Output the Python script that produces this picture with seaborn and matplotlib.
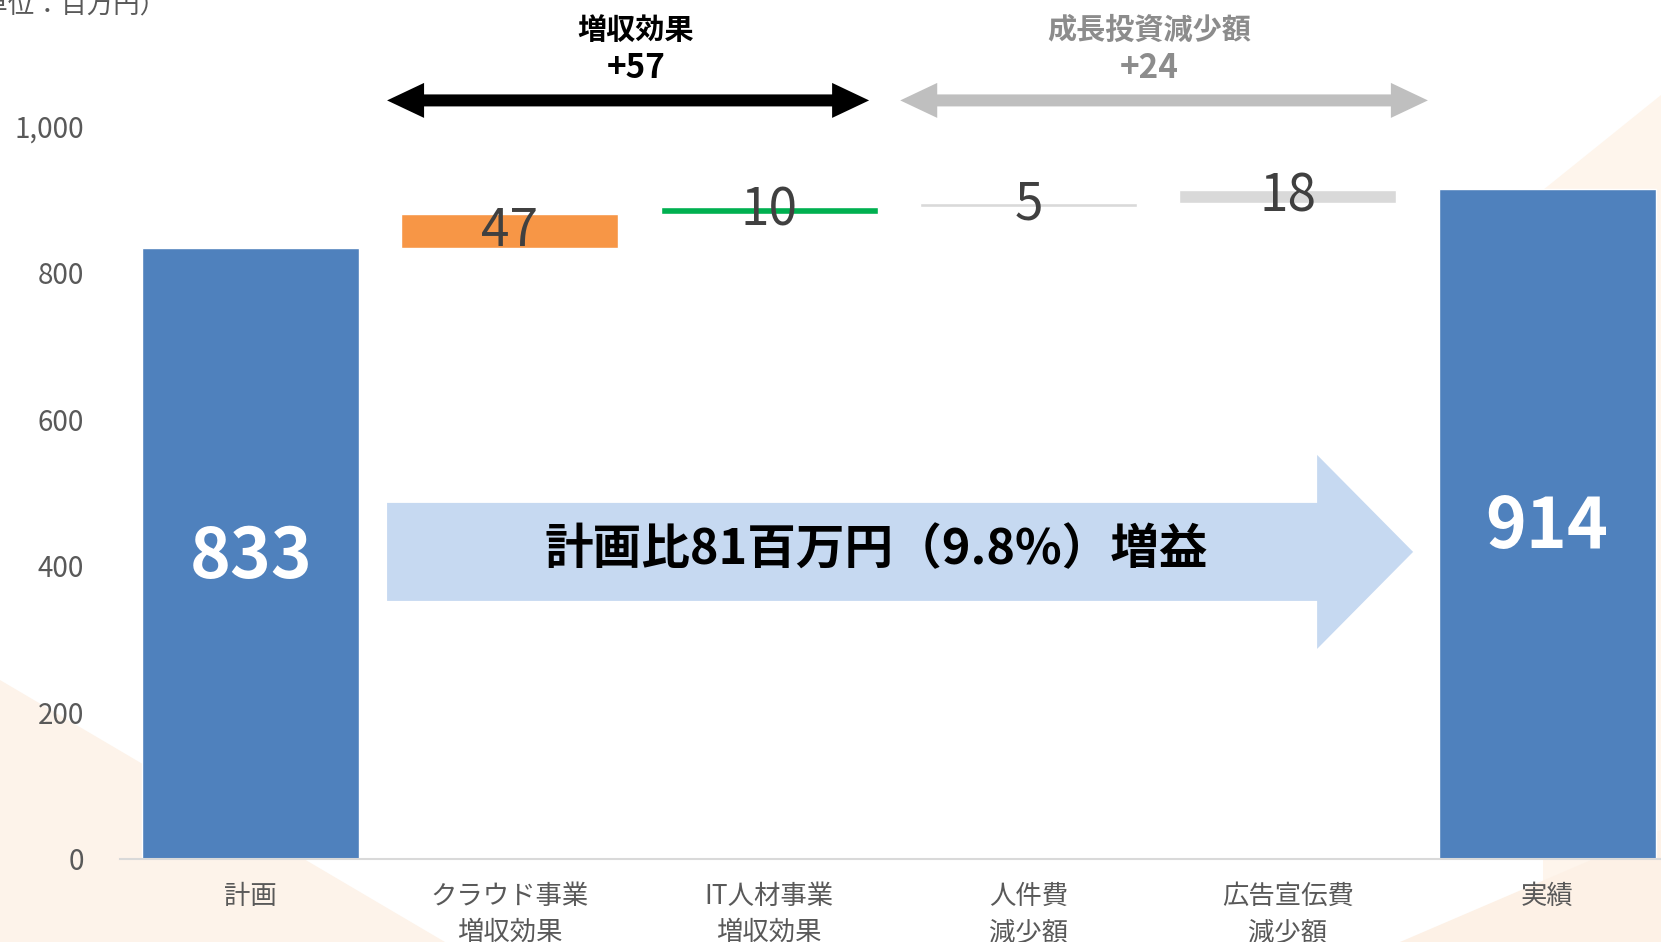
import numpy as np
import pandas as pd
import seaborn as sns
import matplotlib.pyplot as plt
import matplotlib.patches as mpatches
import matplotlib.transforms as mtransforms
from matplotlib.ticker import FuncFormatter

# data
categories = ["計画", "クラウド事業\n増収効果", "IT人材事業\n増収効果", "人件費\n減少額", "広告宣伝費\n減少額", "実績"]
plan = 833
changes = [47, 10, 5, 18]
actual = 914
bar_colors = ["#4F81BD", "#F79646", "#00B050", "#D9D9D9", "#D9D9D9", "#4F81BD"]
yticks = [0, 200, 400, 600, 800, 1000]

heights = [plan] + changes + [actual]
bases = [0] + list(plan + np.cumsum([0] + changes[:-1])) + [0]
df = pd.DataFrame({"category": categories, "value": heights, "base": bases})

sns.set_theme(style="white")
plt.rcParams['font.family'] = ['Noto Sans CJK JP', 'DejaVu Sans']

fig = plt.figure(figsize=(16.61, 9.42), dpi=100)
fig.patch.set_facecolor("white")

# faint background shapes (figure pixels, top-origin)
def fig_poly(pts, color):
    pts = [(x / 1661, 1 - y / 942) for x, y in pts]
    fig.patches.append(mpatches.Polygon(pts, closed=True, transform=fig.transFigure,
                                        facecolor=color, edgecolor="none", zorder=-5))

fig_poly([(0, 680), (445, 942), (0, 942)], "#FDF3EA")
fig_poly([(1543, 190), (1661, 95), (1661, 942), (1543, 942)], "#FEF5EC")
fig_poly([(1400, 942), (1661, 830), (1661, 942)], "#FDF1E6")

ax = fig.add_axes([120 / 1661, 83 / 942, 1 - 120 / 1661, 859 / 942])
ax.set_facecolor("none")

sns.barplot(data=df, x="category", y="value", hue="category", palette=bar_colors,
            saturation=1, width=0.837, legend=False, ax=ax, zorder=3)

# float the change bars on their bases
for patch, b in zip(ax.patches, bases):
    patch.set_y(b)

ax.set_xlim(-0.504, 5.439)
ax.set_ylim(0, 1172)
ax.set_yticks(yticks)
ax.yaxis.set_major_formatter(FuncFormatter(lambda v, p: f"{int(v):,}"))
ax.tick_params(axis="y", labelsize=20, labelcolor="#595959", pad=26, length=0)
ax.tick_params(axis="x", labelsize=19, labelcolor="#595959", pad=17, length=0)
for lab in ax.get_xticklabels():
    lab.set_linespacing(1.45)
ax.set_xlabel("")
ax.set_ylabel("")
for s in ["top", "right", "left"]:
    ax.spines[s].set_visible(False)
ax.spines["bottom"].set_color("#D9D9D9")
ax.spines["bottom"].set_linewidth(1.5)
ax.spines["bottom"].set_zorder(5)

# value labels
for i, (h, b) in enumerate(zip(heights, bases)):
    if i in (0, len(heights) - 1):
        ax.text(i, b + h / 2 - 5, f"{h}", ha="center", va="center", color="white",
                fontsize=50, fontweight="bold", zorder=6)
    else:
        ax.text(i, b + h / 2, f"{h}", ha="center", va="center", color="#404040",
                fontsize=37, zorder=6)

fig.canvas.draw()

def arrow(x0, x1, y, shaft, head_w, head_len, color, double=False):
    (px0, py), (px1, _) = ax.transData.transform([(x0, y), (x1, y)])
    s, hw = shaft / 2, head_w / 2
    right = [(px1 - head_len, py + s), (px1 - head_len, py + hw), (px1, py),
             (px1 - head_len, py - hw), (px1 - head_len, py - s)]
    if double:
        left = [(px0 + head_len, py - s), (px0 + head_len, py - hw), (px0, py),
                (px0 + head_len, py + hw), (px0 + head_len, py + s)]
    else:
        left = [(px0, py - s), (px0, py + s)]
    pts = right + left
    ax.add_patch(mpatches.Polygon(pts, closed=True, transform=mtransforms.IdentityTransform(),
                                  facecolor=color, edgecolor="none", zorder=4, clip_on=False))

# big summary arrow
arrow(0.526, 4.483, 419, 98, 194, 96, "#C6D9F1")
ax.text(2.412, 422, "計画比81百万円（9.8%）増益", ha="center", va="center",
        fontsize=35, fontweight="bold", color="black", zorder=6)

# bracket arrows
arrow(0.526, 2.385, 1035, 12, 35, 37, "black", double=True)
arrow(2.505, 4.54, 1035, 12, 35, 37, "#BFBFBF", double=True)
ax.text(1.485, 1131, "増収効果", ha="center", va="center", fontsize=21,
        fontweight="bold", color="black", clip_on=False)
ax.text(1.485, 1079, "+57", ha="center", va="center", fontsize=24,
        fontweight="bold", color="black", clip_on=False)
ax.text(3.465, 1131, "成長投資減少額", ha="center", va="center", fontsize=21,
        fontweight="bold", color="#8C8C8C", clip_on=False)
ax.text(3.465, 1079, "+24", ha="center", va="center", fontsize=24,
        fontweight="bold", color="#8C8C8C", clip_on=False)

fig.text(-44 / 1661, 1 - 6 / 942, "（単位：百万円）", ha="left", va="center",
         fontsize=19, color="#595959")

fig.savefig("out.png", dpi=100)
